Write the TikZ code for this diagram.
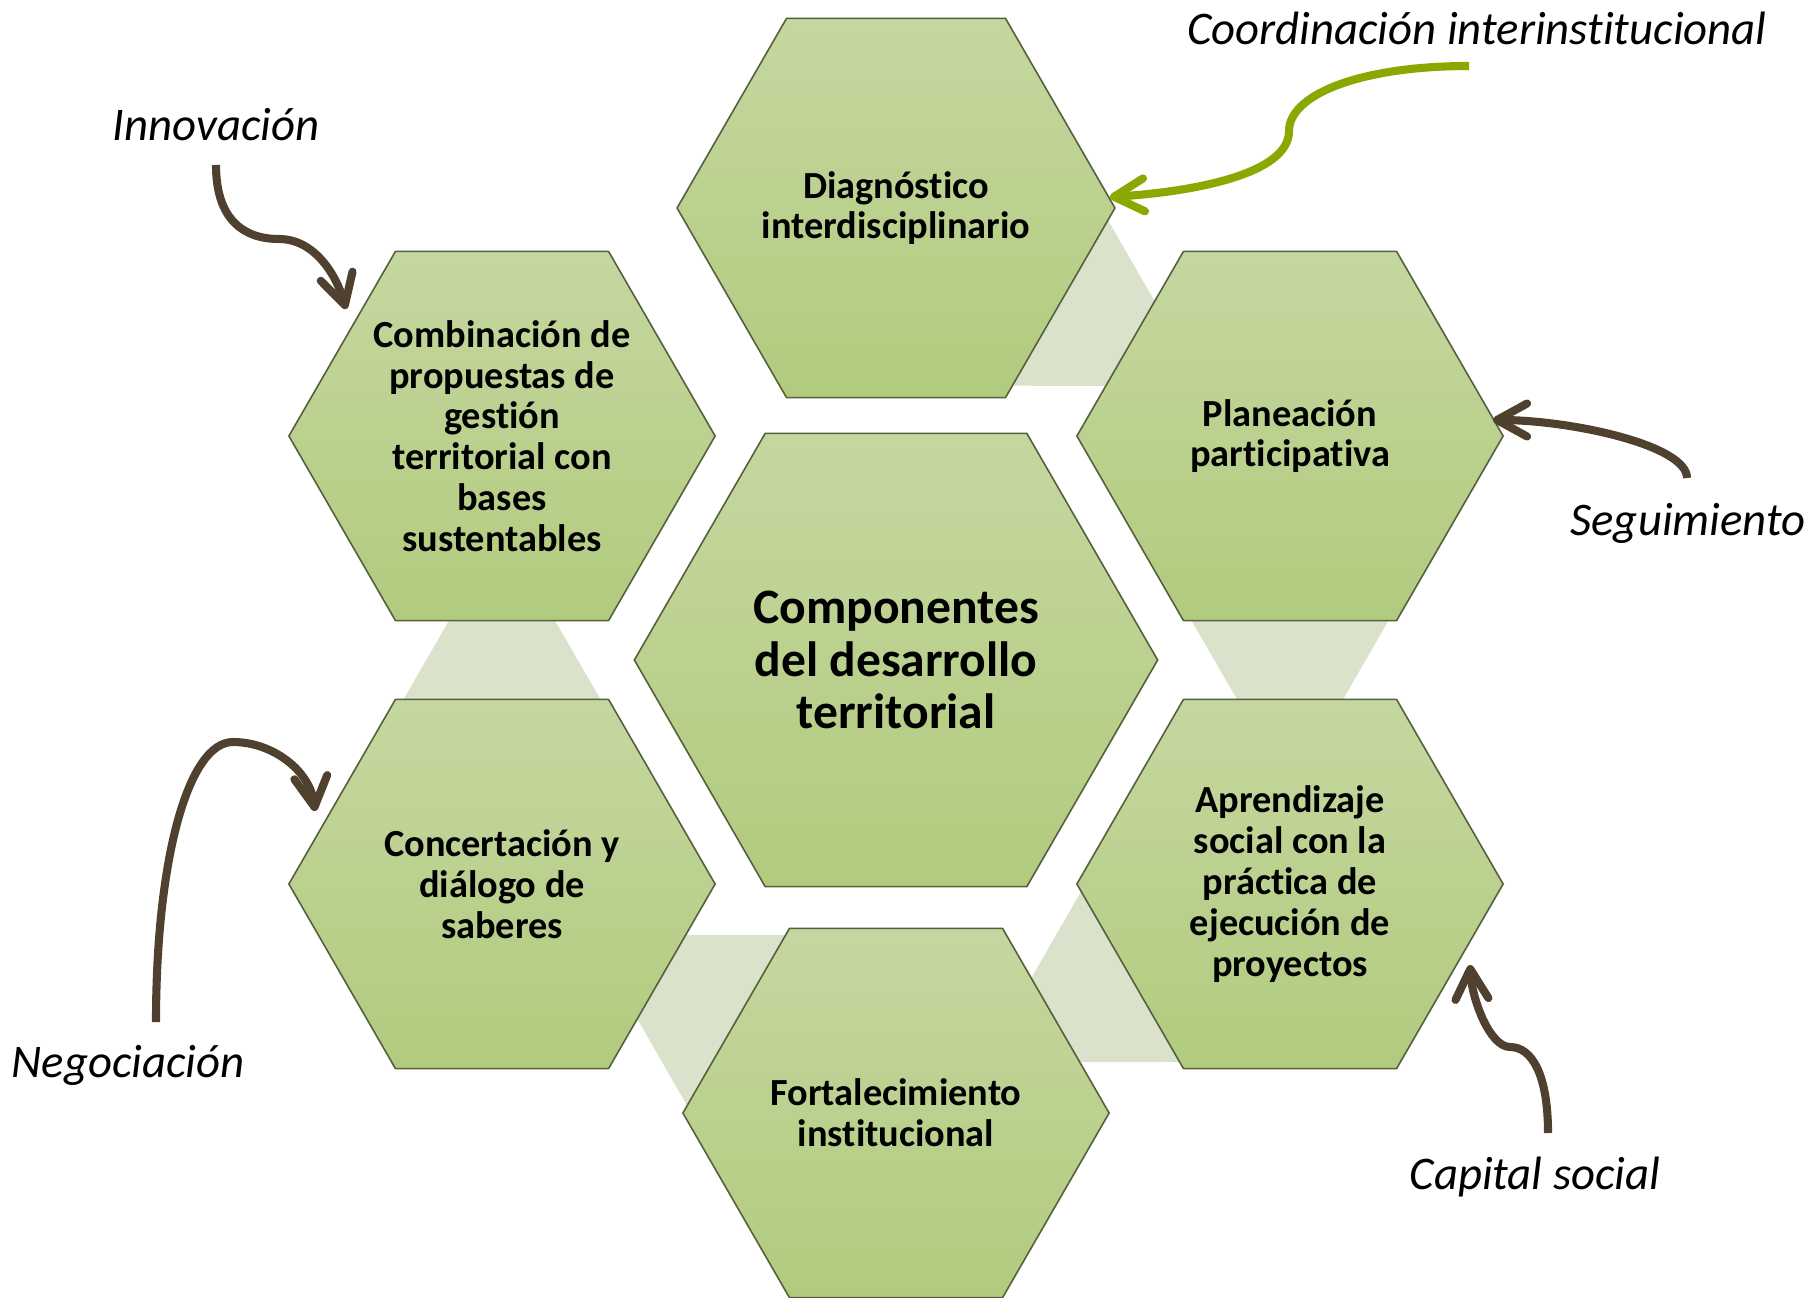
\documentclass[tikz,border=0pt]{standalone}
\usepackage{fontspec}
\setmainfont{Carlito}[RawFeature=-liga, RawFeature=-clig, RawFeature=-calt, RawFeature=-rlig, RawFeature=-dlig]
\usepackage{tikz}
\usetikzlibrary{shapes.geometric,calc,arrows.meta,backgrounds}

\definecolor{hexTop}{RGB}{197,215,160}
\definecolor{hexBot}{RGB}{177,203,126}
\definecolor{hexLine}{RGB}{85,95,60}
\definecolor{enlaceGris}{RGB}{219,226,203}
\definecolor{cafe}{RGB}{79,64,48}
\definecolor{oliva}{RGB}{137,168,0}

\begin{document}
\begin{tikzpicture}[
    x=0.01cm, y=-0.01cm,
    hexa/.style={regular polygon, regular polygon sides=6, draw=hexLine, line width=0.45pt,
        top color=hexTop, bottom color=hexBot, minimum size=4.26cm, inner sep=0pt,
        align=center, font=\bfseries\fontsize{10.9}{11.6}\selectfont},
    centro/.style={hexa, minimum size=5.23cm, font=\bfseries\fontsize{14.1}{15}\selectfont},
    enlace/.style={fill=enlaceGris},
    lbl/.style={anchor=base, font=\itshape\fontsize{13.3}{16}\selectfont},
    flecha/.style={draw=cafe, line width=2.3pt, -{Straight Barb[length=3mm, width=3.3mm, round]}}
]
    \useasboundingbox (0,0) rectangle (1816,1297);

    % Hexagons
    \node [centro] (nucleo) at (896,660) {Componentes\\del desarrollo\\territorial};
    \foreach \name/\hx/\hy/\txt in {diag/896/208/{Diagnóstico\\interdisciplinario},
        plan/1290/436/{Planeación\\participativa},
        aprend/1290/884/{Aprendizaje\\social con la\\práctica de\\ejecución de\\proyectos},
        fort/896/1113/{Fortalecimiento\\institucional},
        concert/502/884/{Concertación y\\diálogo de\\saberes},
        comb/502/436/{Combinación de\\propuestas de\\gestión\\territorial con\\bases\\sustentables}} {
        \node [hexa] (\name) at (\hx,\hy) {\txt};
    }

    % Links behind the hexagons
    \begin{scope}[on background layer]
    \foreach \a/\b in {diag/plan, plan/aprend, aprend/fort, fort/concert, concert/comb} {
        \fill [enlace] ($(\a.center)!2.05cm!90:(\b.center)$) -- ($(\a.center)!3.55cm!(\b.center)$)
            -- ($(\a.center)!2.05cm!-90:(\b.center)$) -- cycle;
    }
    \end{scope}

    % Labels
    \node [lbl] (lcoord) at (1477,45) {Coordinación interinstitucional};
    \node [lbl] (linnov) at (216,140) {Innovación};
    \node [lbl] (lneg) at (128,1077) {Negociación};
    \node [lbl] (lseg) at (1688,535) {Seguimiento};
    \node [lbl] (lcap) at (1535,1189) {Capital social};

    % Arrows
    \coordinate (coordS) at (1469,66);
    \coordinate (coordM) at (1289,131);
    \coordinate (coordE) at (1110,197);
    \draw [flecha, draw=oliva] (coordS) .. controls +(-110,0) and +(0,-36) .. (coordM)
        .. controls +(0,44) and +(80,-5) .. (coordE);

    \coordinate (innovS) at (216,165);
    \coordinate (innovM) at (279,239);
    \coordinate (innovE) at (346,309);
    \draw [flecha] (innovS) .. controls +(0,55) and +(-35,0) .. (innovM)
        .. controls +(35,0) and +(-10,-35) .. (innovE);

    \coordinate (negS) at (156,1022);
    \coordinate (negM) at (233,742);
    \coordinate (negE) at (315,811);
    \draw [flecha] (negS) .. controls +(0,-162) and +(-45,0) .. (negM)
        .. controls +(40,0) and +(-5,-40) .. (negE);

    \coordinate (segS) at (1687,478);
    \coordinate (segE) at (1493,420);
    \draw [flecha] (segS) .. controls +(0,-33) and +(77,0) .. (segE);

    \coordinate (capS) at (1548,1133);
    \coordinate (capM) at (1510,1047);
    \coordinate (capE) at (1470,965);
    \draw [flecha] (capS) .. controls +(0,-58) and +(22,0) .. (capM)
        .. controls +(-20,0) and +(2,35) .. (capE);
\end{tikzpicture}
\end{document}
